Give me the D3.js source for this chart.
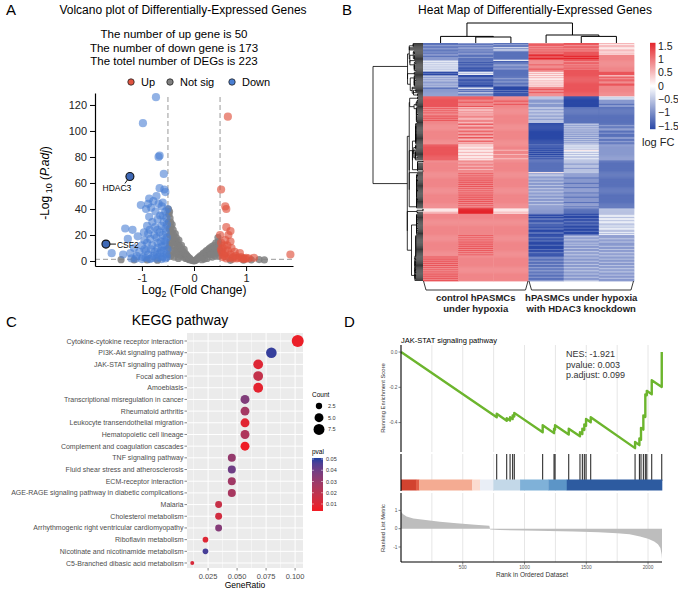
<!DOCTYPE html>
<html>
<head>
<meta charset="utf-8">
<script src="https://cdn.jsdelivr.net/npm/d3@7"></script>
<style>
body { margin: 0; background: #fff; }
svg text { font-family: "Liberation Sans", Arial, sans-serif; }
</style>
</head>
<body>
<svg id="fig" width="678" height="590"></svg>
<script>
/*
 * Panel A: volcano plot data
 */
var VOLCANO_NOTES = ['The number of up gene is 50', 'The number of down gene is 173', 'The totel number of DEGs is 223'];
var VOLCANO_X_TICKS = [-1, 0, 1];
var VOLCANO_Y_TICKS = [0, 20, 40, 60, 80, 100, 120];
var FC_CUTOFF = 0.5,
    P_CUTOFF = 1.3;

var DOWN_POINTS = [
    [-0.73,126],[-0.98,106],[-0.66,81],[-0.68,80],[-0.58,67],[-0.66,56],[-0.57,55],[-0.55,53],[-0.72,50],[-0.86,48],
    [-0.6,45],[-1.02,43],[-0.88,44],[-0.92,40],[-0.82,41],[-0.62,42],[-0.55,38],[-0.65,35],[-0.7,32],[-0.58,30],
    [-1.32,25],[-1.18,24],[-0.85,24],[-0.75,26],[-0.62,27],[-0.55,25],[-1.27,17],[-0.95,16],[-0.72,18],[-0.6,20],
    [-1.0,12],[-0.9,14],[-0.8,12],[-0.7,14],[-0.55,15],[-1.58,6],[-1.36,5],[-1.22,6],[-1.1,4],[-1.05,7],
    [-0.98,3],[-0.92,8],[-0.88,5],[-0.82,9],[-0.78,4],[-0.75,7],[-0.7,10],[-0.68,3],[-0.65,6],[-0.62,11],
    [-0.6,3],[-0.58,8],[-0.56,12],[-0.53,5],[-0.52,18],[-0.51,9],[-0.54,22],[-0.57,16],[-0.66,22],[-0.76,20],
    [-0.84,17],[-0.88,21],[-0.95,9],[-1.15,10],[-1.2,2],[-1.0,1.5],[-0.85,1.5],[-0.72,1.8],[-0.62,1.5],[-0.55,2],
    [-0.52,3],[-0.64,15],[-0.7,24],[-0.6,35],[-0.52,28],[-0.74,38],[-0.8,30],[-0.9,27],[-0.68,44],[-0.78,46],
    [-1.08,19],[-0.96,22],[-0.86,34],[-0.53,33],[-0.51,40],[-0.63,8],[-0.71,5],[-0.82,2],[-0.93,2.5],[-1.12,1.8]
];
var UP_POINTS = [
    [0.65,111],[0.52,55],[0.6,42],[0.62,40],[0.7,23],[0.66,20],[0.6,16],[0.58,12],[0.55,10],[0.52,14],
    [0.53,7],[0.6,6],[0.65,8],[0.7,5],[0.75,3],[0.8,4],[0.85,2.5],[0.9,3],[0.95,2],[1.0,2.5],
    [1.05,2],[1.15,2.5],[1.85,5],[0.55,3],[0.62,2],[0.68,2.5],[0.72,10],[0.78,7],[0.58,4],[0.64,12],
    [0.82,2],[0.88,6],[0.5,20],[0.52,9],[0.56,5],[0.92,1.8],[0.98,1.6],[0.74,1.8],[0.7,15],[0.62,26]
];
var NOTSIG_POINTS = [
    [-0.49,40],[-0.48,36],[-0.47,38],[-0.46,33],[-0.45,30],[-0.49,30],[-0.48,25],[-0.47,20],[-0.46,15],[-0.49,10],
    [-0.48,5],[-0.44,26],[-0.43,22],[-0.42,28],[-0.41,18],[-0.4,24],[-0.4,12],[-0.39,20],[-0.38,16],[-0.37,8],
    [-0.36,21],[-0.35,14],[-0.34,18],[-0.33,10],[-0.32,15],[-0.31,5],[-0.3,12],[-0.29,16],[-0.28,8],[-0.27,11],
    [-0.26,4],[-0.25,9],[-0.24,12],[-0.23,6],[-0.22,8],[-0.21,3],[-0.2,6],[-0.19,9],[-0.18,4],[-0.17,6],
    [-0.16,2],[-0.15,5],[-0.14,3],[-0.13,4],[-0.12,1.5],[-0.11,3],[-0.1,2],[-0.09,1],[-0.08,2],[-0.06,0.8],
    [-0.04,0.5],[-0.02,0.3],[0,0.1],[-0.44,4],[-0.42,8],[-0.38,3],[-0.35,6],[-0.3,2],[-0.45,20],[-0.47,12],
    [-0.43,14],[0.02,0.3],[0.04,0.8],[0.06,1.5],[0.08,2.5],[0.1,3],[0.12,4],[0.14,3],[0.16,5],[0.18,6],
    [0.2,4],[0.22,7],[0.24,8],[0.26,6],[0.28,9],[0.3,10],[0.32,8],[0.34,11],[0.36,9],[0.38,12],
    [0.4,10],[0.42,14],[0.44,11],[0.46,18],[0.47,15],[0.48,13],[0.49,9],[0.45,6],[0.4,4],[0.35,3],
    [0.3,5],[0.25,2],[0.2,1.5],[0.15,1],[0.48,4],[0.43,7],[0.38,6],[0.33,5],[1.25,1.1],[1.35,0.8],
    [1.1,0.9],[0.95,0.7],[-1.15,0.9],[-0.9,0.8],[-0.7,0.6],[0.7,0.5],[-1.4,1]
];
var LABELLED_GENES = [
    {name: 'HDAC3', fc: -1.23, p: 65},
    {name: 'CSF2', fc: -1.69, p: 13}
];

/*
 * Panel B: heat map data (one string per gene, one digit per sample, 0 = -1.5 ... 9 = 1.5)
 */
var HEAT_SAMPLES = ['ctrl1', 'ctrl2', 'ctrl3', 'kd1', 'kd2', 'kd3'];
var HEAT_GROUPS = [['control hPASMCs', 'under hypoxia'], ['hPASMCs under hypoxia', 'with HDAC3 knockdown']];
var HEAT_LEGEND_TICKS = [1.5, 1, 0.5, 0, -0.5, -1, -1.5];
var HEAT_ROWS = (
    '121786 112885 221876 111786 124885 221775 114886 122776 211885 121786 221885 ' +
    '211987 111897 221887 211997 212887 ' +
    '314787 410777 301787 411787 302877 412787 311777 402787 312877 401787 311787 ' +
    '041588 131688 041588 ' +
    '201686 301587 211688 312587 201588 301688 212587 201687 311588 202688 301587 ' +
    '220787 140787 210887 221787 210787 231887 220787 210787 220787 ' +
    '887304 887303 887304 ' +
    '877202 878202 887202 877302 878201 877202 887202 ' +
    '767311 877311 767211 867311 777311 867211 777311 767311 877211 777311 867311 767211 877311 777311 767311 ' +
    '777021 787031 767022 777031 787021 777032 767022 787031 777021 767032 787021 777031 767021 787032 777022 767031 777021 787032 767021 777031 ' +
    '857132 867042 857132 857042 867132 856052 857142 867032 857142 856032 867142 857032 857132 866042 857132 ' +
    '777131 777131 767131 777121 777131 767131 777131 777121 767131 777131 777131 ' +
    '777531 ' +
    '787221 777321 787321 777221 787211 777321 787221 777221 787321 777211 787221 777321 787221 777211 787321 777221 787221 ' +
    '777321 787211 777221 787321 777221 787211 777321 787221 777221 787321 777211 787221 777321 787221 777211 787221 ' +
    '595213 595213 595213 696213 695213 ' +
    '777103 777014 777104 777003 777114 777104 777003 777014 777104 777103 777013 777104 777003 777114 777104 777003 777013 777104 777103 777014 ' +
    '787022 777032 787122 777023 787032 777122 787023 777032 787022 777132 787023 777022 787032 777123 787022 777032 787123 777022 787032 777023 ' +
    '877122 777232 877123 777122 877232 777123 877122 777232 877123 777122 877232 777123 877122 777232 877123 777122 877232 777123 877122 777232 877123 777122 877232'
).split(' ');
var COL_TREE = {h: 1.0, children: [
    {h: 0.33, children: [{col: 0}, {h: 0.30, children: [{col: 1}, {col: 2}]}]},
    {h: 0.40, children: [{col: 3}, {h: 0.33, children: [{col: 4}, {col: 5}]}]}
]};

/*
 * Panel C: KEGG dot plot data
 */
var KEGG_TERMS = [
    'Cytokine-cytokine receptor interaction', 'PI3K-Akt signaling pathway', 'JAK-STAT signaling pathway',
    'Focal adhesion', 'Amoebiasis', 'Transcriptional misregulation in cancer', 'Rheumatoid arthritis',
    'Leukocyte transendothelial migration', 'Hematopoietic cell lineage', 'Complement and coagulation cascades',
    'TNF signaling pathway', 'Fluid shear stress and atherosclerosis', 'ECM-receptor interaction',
    'AGE-RAGE signaling pathway in diabetic complications', 'Malaria', 'Cholesterol metabolism',
    'Arrhythmogenic right ventricular cardiomyopathy', 'Riboflavin metabolism',
    'Nicotinate and nicotinamide metabolism', 'C5-Branched dibasic acid metabolism'
];
var KEGG_COUNTS = [9, 7, 6, 6, 6, 5, 5, 5, 5, 5, 4, 4, 4, 4, 3, 3, 3, 2, 2, 1];
var KEGG_GENE_TOTAL = 88;
var KEGG_PVALS = [0.006, 0.049, 0.010, 0.018, 0.008, 0.036, 0.027, 0.009, 0.024, 0.005,
                  0.031, 0.040, 0.028, 0.026, 0.017, 0.014, 0.035, 0.010, 0.047, 0.012];
var KEGG_X_TICKS = [0.025, 0.05, 0.075, 0.1];
var KEGG_X_MINOR = [0.0125, 0.0375, 0.0625, 0.0875];
var COUNT_LEGEND = [2.5, 5.0, 7.5];
var PVAL_LEGEND = [0.05, 0.04, 0.03, 0.02, 0.01];

/*
 * Panel D: GSEA data
 */
var GSEA_N = 2113;
var GSEA_STATS = ['NES: -1.921', 'pvalue: 0.003', 'p.adjust: 0.099'];
var HIT_RANKS = [775, 856, 883, 904, 917, 1147, 1239, 1247, 1358, 1449, 1468, 1484, 1498, 1536,
                 1895, 1930, 1943, 1962, 1978, 1990, 2030, 2111];
var ES_PATH = [
    [1, 0.0], [775, -0.37], [775, -0.35], [856, -0.39], [856, -0.375], [883, -0.388], [883, -0.37],
    [904, -0.38], [904, -0.36], [917, -0.365], [917, -0.345], [1147, -0.455], [1147, -0.415],
    [1239, -0.46], [1239, -0.435], [1247, -0.44], [1247, -0.415], [1358, -0.468], [1358, -0.435],
    [1449, -0.478], [1449, -0.455], [1468, -0.465], [1468, -0.435], [1484, -0.442], [1484, -0.41],
    [1498, -0.418], [1498, -0.38], [1536, -0.398], [1536, -0.37], [1895, -0.545], [1895, -0.51],
    [1930, -0.528], [1930, -0.49], [1943, -0.497], [1943, -0.43], [1962, -0.44], [1962, -0.36],
    [1978, -0.368], [1978, -0.24], [1990, -0.245], [1990, -0.22], [2030, -0.24], [2030, -0.16],
    [2111, -0.198], [2111, 0.0]
];
var METRIC_PATH = [
    [1, 0.93], [15, 0.8], [45, 0.66], [100, 0.56], [200, 0.47], [315, 0.38], [450, 0.3], [600, 0.22],
    [715, 0.16], [722, -0.05], [800, -0.07], [1000, -0.1], [1200, -0.13], [1400, -0.16], [1600, -0.2],
    [1750, -0.25], [1850, -0.31], [1935, -0.42], [2000, -0.55], [2050, -0.7], [2080, -0.85],
    [2100, -1.05], [2110, -1.4], [2113, -1.65]
];
var RANK_BAR_BREAKS = [0, 121, 146, 575, 640, 748, 964, 1193, 1342, 2113];
var RANK_BAR_COLORS = ['#d2432f', '#e26049', '#f4ab92', '#fbdcd0', '#e9eef6', '#c3d8e8', '#7fb1d8', '#5c95c7', '#2d5ba0'];
var ES_TICKS = [0, -0.2, -0.4];
var METRIC_TICKS = [1, 0, -1];
var RANK_TICKS = [500, 1000, 1500, 2000];
var RANK_GRID = [250, 500, 750, 1000, 1250, 1500, 1750, 2000];

/*
 * Style
 */
var BLUE_PT = '#4a7fd3',
    RED_PT = '#e0533f',
    GREY_PT = '#808080';

function txt(g, x, y, s, size, anchor) {
    return g.append('text')
        .attr('x', x).attr('y', y)
        .attr('font-size', size)
        .attr('text-anchor', anchor || 'start')
        .text(s);
}

/**
 * Volcano plot
 */
function drawVolcano(svg) {
    var g = svg.append('g');
    var x = d3.scaleLinear().domain([-1.9, 1.9]).range([95, 293]),
        y = d3.scaleLinear().domain([-3.85, 129.2]).range([266, 93]);

    txt(g, 6, 15, 'A', 15);
    txt(g, 183, 14, 'Volcano plot of Differentially-Expressed Genes', 12, 'middle');
    VOLCANO_NOTES.forEach(function (s, i) { txt(g, 174, 38 + i * 13.5, s, 11.5, 'middle'); });

    // legend
    var leg = [['Up', RED_PT, 131], ['Not sig', GREY_PT, 170], ['Down', BLUE_PT, 232]];
    leg.forEach(function (d) {
        g.append('circle').attr('cx', d[2]).attr('cy', 82).attr('r', 3.2)
            .attr('fill', d[1]).attr('stroke', '#222').attr('stroke-width', 0.8);
        txt(g, d[2] + 10, 86, d[0], 11);
    });

    // threshold lines
    [-FC_CUTOFF, FC_CUTOFF].forEach(function (v) {
        g.append('line').attr('x1', x(v)).attr('x2', x(v)).attr('y1', 97).attr('y2', 266)
            .attr('stroke', '#999').attr('stroke-width', 1).attr('stroke-dasharray', '5,3');
    });
    g.append('line').attr('x1', 95).attr('x2', 293).attr('y1', y(P_CUTOFF)).attr('y2', y(P_CUTOFF))
        .attr('stroke', '#999').attr('stroke-width', 1).attr('stroke-dasharray', '5,3');

    // points
    g.append('g').selectAll('circle').data(NOTSIG_POINTS).enter().append('circle')
        .attr('cx', function (d) { return x(d[0]); })
        .attr('cy', function (d) { return y(d[1]); })
        .attr('r', 3.6).attr('fill', GREY_PT).attr('fill-opacity', 0.85);
    g.append('g').selectAll('circle').data(DOWN_POINTS).enter().append('circle')
        .attr('cx', function (d) { return x(d[0]); })
        .attr('cy', function (d) { return y(d[1]); })
        .attr('r', 4.1).attr('fill', BLUE_PT).attr('fill-opacity', 0.6);
    g.append('g').selectAll('circle').data(UP_POINTS).enter().append('circle')
        .attr('cx', function (d) { return x(d[0]); })
        .attr('cy', function (d) { return y(d[1]); })
        .attr('r', 4.1).attr('fill', RED_PT).attr('fill-opacity', 0.65);

    // labelled genes
    LABELLED_GENES.forEach(function (d) {
        var px = x(d.fc), py = y(d.p);
        if (d.name === 'HDAC3') {
            g.append('line').attr('x1', px).attr('y1', py).attr('x2', px - 5).attr('y2', py + 7)
                .attr('stroke', '#111').attr('stroke-width', 1);
            txt(g, px - 13, py + 15, d.name, 8.5, 'middle');
        } else {
            g.append('line').attr('x1', px).attr('y1', py).attr('x2', px + 10).attr('y2', py)
                .attr('stroke', '#111').attr('stroke-width', 1);
            txt(g, px + 11, py + 3.5, d.name, 8.5);
        }
        g.append('circle').attr('cx', px).attr('cy', py).attr('r', 4)
            .attr('fill', '#3e68b5').attr('stroke', '#111').attr('stroke-width', 1.1);
    });

    // axes
    var ax = g.append('g').attr('transform', 'translate(0,266)')
        .call(d3.axisBottom(x).tickValues(VOLCANO_X_TICKS).tickSize(5).tickSizeOuter(0)
            .tickFormat(function (d) { return d === 0 ? '0' : (d < 0 ? '-' + Math.abs(d) : d); }));
    var ay = g.append('g').attr('transform', 'translate(95,0)')
        .call(d3.axisLeft(y).tickValues(VOLCANO_Y_TICKS).tickSize(5).tickSizeOuter(0));
    [ax, ay].forEach(function (a) {
        a.select('.domain').attr('stroke', '#000').attr('stroke-width', 1.2);
        a.selectAll('.tick line').attr('stroke', '#000').attr('stroke-width', 1);
        a.selectAll('.tick text').attr('font-size', 11).attr('fill', '#222')
            .attr('font-family', '"Liberation Sans", Arial, sans-serif');
    });

    var xl = g.append('text').attr('x', 194).attr('y', 294).attr('text-anchor', 'middle').attr('font-size', 12);
    xl.append('tspan').text('Log');
    xl.append('tspan').attr('font-size', 9).attr('dy', 3).text('2');
    xl.append('tspan').attr('dy', -3).text(' (Fold Change)');

    var yl = g.append('text').attr('transform', 'translate(49,183) rotate(-90)')
        .attr('text-anchor', 'middle').attr('font-size', 12);
    yl.append('tspan').text('-Log');
    yl.append('tspan').attr('font-size', 9).attr('dy', 3).text(' 10');
    yl.append('tspan').attr('dy', -3).text(' (');
    yl.append('tspan').attr('font-style', 'italic').text('P.adj');
    yl.append('tspan').text(')');
}

/**
 * Adjacent-order centroid clustering of the heat map rows, used only to lay out the row tree
 */
function clusterRows(rows) {
    var list = rows.map(function (r, i) { return {n: 1, mean: r, h: 0, pos: i, leaf: true}; });
    while (list.length > 1) {
        var best = 0, bestD = Infinity;
        for (var i = 0; i < list.length - 1; i++) {
            var a = list[i], b = list[i + 1], s = 0;
            for (var k = 0; k < a.mean.length; k++) { s += (a.mean[k] - b.mean[k]) * (a.mean[k] - b.mean[k]); }
            var dist = Math.sqrt(s);
            if (dist < bestD) { bestD = dist; best = i; }
        }
        var a2 = list[best], b2 = list[best + 1], n = a2.n + b2.n;
        var node = {
            n: n,
            mean: a2.mean.map(function (v, k) { return (v * a2.n + b2.mean[k] * b2.n) / n; }),
            h: Math.max(bestD, a2.h, b2.h),
            pos: (a2.pos + b2.pos) / 2,
            a: a2, b: b2
        };
        list.splice(best, 2, node);
    }
    return list[0];
}

/**
 * Heat map
 */
function drawHeatmap(svg) {
    var g = svg.append('g');
    var data = HEAT_ROWS.map(function (s) {
        return s.split('').map(function (c) { return (+c - 4.5) / 3; });
    });
    var x = d3.scaleBand().domain(d3.range(HEAT_SAMPLES.length)).range([423, 634]),
        y = d3.scaleBand().domain(d3.range(data.length)).range([43, 281]);
    var color = d3.scaleLinear().domain([-1.5, 0, 1.5]).range(['#2a48a6', '#ffffff', '#e4252b']).clamp(true);

    txt(g, 342, 15, 'B', 15);
    txt(g, 535, 14, 'Heat Map of Differentially-Expressed Genes', 12, 'middle');

    data.forEach(function (row, i) {
        row.forEach(function (v, j) {
            g.append('rect').attr('x', x(j)).attr('y', y(i))
                .attr('width', x.bandwidth() + 0.3).attr('height', y.bandwidth() + 0.4)
                .attr('fill', color(v));
        });
    });

    // row tree
    var root = clusterRows(data);
    var hx = d3.scalePow().exponent(0.85).domain([0, root.h]).range([423, 373]);
    var rowY = function (p) { return y(0) + (p + 0.5) * y.step(); };
    var tree = g.append('g').attr('stroke', '#000').attr('stroke-width', 0.8).attr('fill', 'none');
    (function walk(nd) {
        if (nd.leaf) { return; }
        var px = hx(nd.h);
        tree.append('path').attr('d',
            'M' + hx(nd.a.h) + ',' + rowY(nd.a.pos) + 'H' + px + 'V' + rowY(nd.b.pos) + 'H' + hx(nd.b.h));
        walk(nd.a); walk(nd.b);
    })(root);

    // column tree
    var hy = d3.scaleLinear().domain([0, 1]).range([43, 23]);
    var cx = function (nd) {
        if (nd.col !== undefined) { return x(nd.col) + x.bandwidth() / 2; }
        return (cx(nd.children[0]) + cx(nd.children[1])) / 2;
    };
    (function walkC(nd) {
        if (!nd.children) { return; }
        var c0 = nd.children[0], c1 = nd.children[1];
        tree.append('path').attr('d',
            'M' + cx(c0) + ',' + hy(c0.h || 0) + 'V' + hy(nd.h) + 'H' + cx(c1) + 'V' + hy(c1.h || 0))
            .attr('stroke-width', 1);
        walkC(c0); walkC(c1);
    })(COL_TREE);

    // group brackets + labels
    HEAT_GROUPS.forEach(function (lab, k) {
        var x0 = x(k * 3), x1 = x(k * 3 + 2) + x.bandwidth();
        g.append('path').attr('d', 'M' + (x0 + 0.5) + ',281 L' + (x0 + 3) + ',290 H' + (x1 - 3) + ' L' + (x1 - 0.5) + ',281')
            .attr('fill', 'none').attr('stroke', '#222').attr('stroke-width', 0.9);
        var cxm = (x0 + x1) / 2;
        lab.forEach(function (s, i) {
            txt(g, cxm, 301 + i * 10.5, s, 9.5, 'middle').attr('font-weight', 'bold').attr('fill', '#222');
        });
    });

    // legend
    var ly = d3.scaleLinear().domain([1.5, -1.5]).range([46, 126]);
    var defs = svg.append('defs');
    var grad = defs.append('linearGradient').attr('id', 'heat-grad')
        .attr('x1', 0).attr('x2', 0).attr('y1', 0).attr('y2', 1);
    [1.6, 0, -1.6].forEach(function (v, i) {
        grad.append('stop').attr('offset', (i * 50) + '%').attr('stop-color', color(v));
    });
    g.append('rect').attr('x', 650).attr('y', ly(1.62)).attr('width', 5.5)
        .attr('height', ly(-1.62) - ly(1.62)).attr('fill', 'url(#heat-grad)');
    HEAT_LEGEND_TICKS.forEach(function (v) {
        var s = v < 0 ? '\u2212' + Math.abs(v) : String(v);
        txt(g, 658, ly(v) + 3.8, s, 10.5).attr('fill', '#222');
    });
    txt(g, 642, 146, 'log FC', 11).attr('fill', '#222');
}

/**
 * KEGG dot plot
 */
function drawKegg(svg) {
    var g = svg.append('g');
    var ratios = KEGG_COUNTS.map(function (c) { return c / KEGG_GENE_TOTAL; });
    var x = d3.scaleLinear().domain([0.00682, 0.10682]).range([187, 303]),
        y = d3.scalePoint().domain(KEGG_TERMS).range([341, 563]);
    var r = d3.scaleSqrt().domain([1, 9]).range([2, 6]);
    var color = d3.scaleLinear().domain([0.005, 0.05]).range(['#ee1c25', '#2b3f9f']).interpolate(d3.interpolateLab);

    txt(g, 6, 327, 'C', 15);
    txt(g, 180, 325, 'KEGG pathway', 14, 'middle');

    g.append('rect').attr('x', 187).attr('y', 333).attr('width', 116).attr('height', 235).attr('fill', '#ebebeb');
    KEGG_X_MINOR.forEach(function (v) {
        g.append('line').attr('x1', x(v)).attr('x2', x(v)).attr('y1', 333).attr('y2', 568)
            .attr('stroke', '#fff').attr('stroke-width', 0.5);
    });
    KEGG_X_TICKS.forEach(function (v) {
        g.append('line').attr('x1', x(v)).attr('x2', x(v)).attr('y1', 333).attr('y2', 568)
            .attr('stroke', '#fff').attr('stroke-width', 1);
        g.append('line').attr('x1', x(v)).attr('x2', x(v)).attr('y1', 568).attr('y2', 570.5)
            .attr('stroke', '#333').attr('stroke-width', 0.6);
        txt(g, x(v), 579, v.toFixed(3), 7.5, 'middle').attr('fill', '#4d4d4d');
    });
    KEGG_TERMS.forEach(function (t) {
        g.append('line').attr('x1', 187).attr('x2', 303).attr('y1', y(t)).attr('y2', y(t))
            .attr('stroke', '#fff').attr('stroke-width', 1);
        g.append('line').attr('x1', 184.5).attr('x2', 187).attr('y1', y(t)).attr('y2', y(t))
            .attr('stroke', '#333').attr('stroke-width', 0.6);
        txt(g, 183.5, y(t) + 2.5, t, 7, 'end').attr('fill', '#4d4d4d');
    });

    KEGG_TERMS.forEach(function (t, i) {
        g.append('circle').attr('cx', x(ratios[i])).attr('cy', y(t)).attr('r', r(KEGG_COUNTS[i]))
            .attr('fill', color(KEGG_PVALS[i]));
    });
    txt(g, 245, 588, 'GeneRatio', 8.5, 'middle');

    // size legend
    txt(g, 312, 397, 'Count', 6.5);
    COUNT_LEGEND.forEach(function (c, i) {
        var cy = 406 + i * 11.7;
        g.append('circle').attr('cx', 319).attr('cy', cy).attr('r', r(c)).attr('fill', '#000');
        txt(g, 328, cy + 2, c.toFixed(1), 5.5).attr('fill', '#333');
    });

    // colour legend
    var ly = d3.scaleLinear().domain([0.05, 0.01]).range([459, 504]);
    var grad = svg.append('defs').append('linearGradient').attr('id', 'pval-grad')
        .attr('x1', 0).attr('x2', 0).attr('y1', 0).attr('y2', 1);
    d3.range(0, 11).forEach(function (k) {
        var v = 0.0509 - k * (0.0509 - 0.0038) / 10;
        grad.append('stop').attr('offset', (k * 10) + '%').attr('stop-color', color(v));
    });
    txt(g, 312, 454, 'pval', 6.5);
    g.append('rect').attr('x', 312).attr('y', ly(0.0509)).attr('width', 11)
        .attr('height', ly(0.0038) - ly(0.0509)).attr('fill', 'url(#pval-grad)');
    PVAL_LEGEND.forEach(function (v) {
        g.append('line').attr('x1', 312).attr('x2', 314).attr('y1', ly(v)).attr('y2', ly(v)).attr('stroke', '#fff').attr('stroke-width', 0.5);
        g.append('line').attr('x1', 321).attr('x2', 323).attr('y1', ly(v)).attr('y2', ly(v)).attr('stroke', '#fff').attr('stroke-width', 0.5);
        txt(g, 326, ly(v) + 2, v.toFixed(2), 5.5).attr('fill', '#333');
    });
}

/**
 * GSEA plot
 */
function drawGsea(svg) {
    var g = svg.append('g');
    var x = d3.scaleLinear().domain([0, GSEA_N]).range([401, 662]),
        yES = d3.scaleLinear().domain([0.04, -0.567]).range([345, 452]),
        yM = d3.scaleLinear().domain([1.95, -1.82]).range([493, 562]);

    txt(g, 344, 327, 'D', 15);
    txt(g, 401, 343, 'JAK-STAT signaling pathway', 7.5);

    // grid
    [[345, 452], [454, 491], [493, 562]].forEach(function (b) {
        RANK_GRID.forEach(function (v) {
            g.append('line').attr('x1', x(v)).attr('x2', x(v)).attr('y1', b[0]).attr('y2', b[1])
                .attr('stroke', '#e6e6e6').attr('stroke-width', 1);
        });
    });

    // running score
    g.append('path').datum(ES_PATH)
        .attr('d', d3.line().x(function (d) { return x(d[0]); }).y(function (d) { return yES(d[1]); }))
        .attr('fill', 'none').attr('stroke', '#6cb52d').attr('stroke-width', 2.4).attr('stroke-linejoin', 'round');
    GSEA_STATS.forEach(function (s, i) { txt(g, 566, 357 + i * 10.6, s, 9).attr('fill', '#333'); });

    // hits + rank bar
    HIT_RANKS.forEach(function (v) {
        g.append('line').attr('x1', x(v)).attr('x2', x(v)).attr('y1', 454).attr('y2', 481)
            .attr('stroke', '#000').attr('stroke-width', 0.9);
    });
    RANK_BAR_COLORS.forEach(function (c, i) {
        g.append('rect').attr('x', x(RANK_BAR_BREAKS[i])).attr('y', 479.5)
            .attr('width', x(RANK_BAR_BREAKS[i + 1]) - x(RANK_BAR_BREAKS[i]) + 0.3).attr('height', 11)
            .attr('fill', c);
    });

    // ranked metric
    g.append('path').datum(METRIC_PATH)
        .attr('d', d3.area().x(function (d) { return x(d[0]); }).y0(yM(0)).y1(function (d) { return yM(d[1]); }))
        .attr('fill', '#bdbdbd');

    // axes
    var axis = g.append('g').attr('stroke', '#000').attr('stroke-width', 1.1);
    axis.append('line').attr('x1', 401).attr('x2', 401).attr('y1', 345).attr('y2', 452);
    axis.append('line').attr('x1', 401).attr('x2', 401).attr('y1', 454).attr('y2', 491);
    axis.append('line').attr('x1', 401).attr('x2', 401).attr('y1', 493).attr('y2', 562);
    axis.append('line').attr('x1', 401).attr('x2', 662).attr('y1', 562).attr('y2', 562);

    ES_TICKS.forEach(function (v) {
        g.append('line').attr('x1', 398.5).attr('x2', 401).attr('y1', yES(v)).attr('y2', yES(v)).attr('stroke', '#333').attr('stroke-width', 0.6);
        txt(g, 397.5, yES(v) + 1.8, v.toFixed(1), 4.8, 'end').attr('fill', '#555');
    });
    METRIC_TICKS.forEach(function (v) {
        g.append('line').attr('x1', 398.5).attr('x2', 401).attr('y1', yM(v)).attr('y2', yM(v)).attr('stroke', '#333').attr('stroke-width', 0.6);
        txt(g, 397.5, yM(v) + 1.8, String(v), 4.8, 'end').attr('fill', '#555');
    });
    RANK_TICKS.forEach(function (v) {
        g.append('line').attr('x1', x(v)).attr('x2', x(v)).attr('y1', 562).attr('y2', 564.5).attr('stroke', '#333').attr('stroke-width', 0.6);
        txt(g, x(v), 569, String(v), 4.8, 'middle').attr('fill', '#555');
    });
    txt(g, 532, 577, 'Rank in Ordered Dataset', 6.5, 'middle').attr('fill', '#333');
    txt(g, 0, 0, 'Running Enrichment Score', 5.8, 'middle').attr('fill', '#333')
        .attr('transform', 'translate(385,398) rotate(-90)');
    txt(g, 0, 0, 'Ranked List Metric', 5.8, 'middle').attr('fill', '#333')
        .attr('transform', 'translate(385,528) rotate(-90)');
}

(function () {
    var svg = d3.select('#fig');
    svg.append('rect').attr('width', 678).attr('height', 590).attr('fill', '#fff');
    drawVolcano(svg);
    drawHeatmap(svg);
    drawKegg(svg);
    drawGsea(svg);
})();
</script>
</body>
</html>
